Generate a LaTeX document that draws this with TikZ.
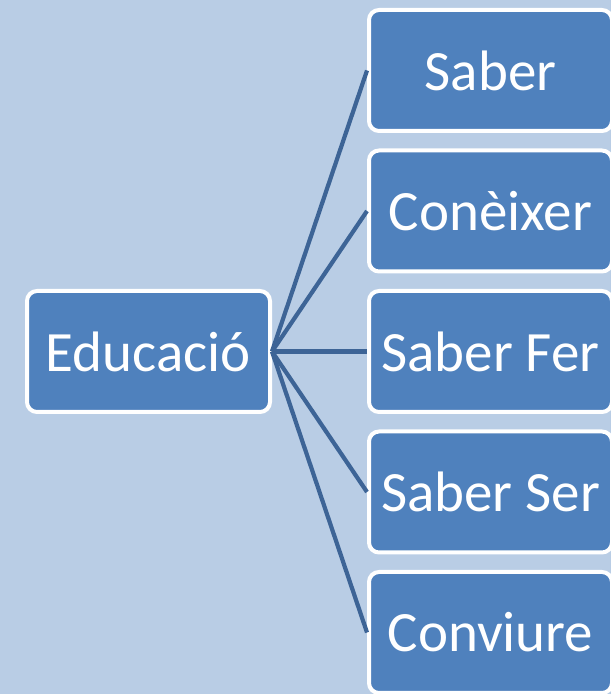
\documentclass[tikz,border=0pt]{standalone}
\usepackage{fontspec}
\setmainfont{Carlito}
\usepackage{xcolor}
\usetikzlibrary{positioning}
\definecolor{bgblue}{HTML}{B9CDE5}
\definecolor{boxblue}{HTML}{4F81BD}
\definecolor{linkblue}{HTML}{3D6496}

\begin{document}
\begin{tikzpicture}[x=1pt,y=1pt,
	box/.style={draw=white,line width=4pt,fill=boxblue,rounded corners=10pt,
		minimum width=243pt,minimum height=121pt,inner sep=0pt,
		text=white,font=\fontsize{57}{62}\selectfont},
	link/.style={draw=linkblue,line width=4.2pt}]
		\fill[bgblue] (0,0) rectangle (611,694);
		\useasboundingbox (0,0) rectangle (611,694);
		%
		\node[box] (E) at (148.5,342.5) {Educació};
		\node[box] (S1) at (490.5,623.5) {Saber};
		\node[box] (S2) at (490.5,483) {Conèixer};
		\node[box] (S3) at (490.5,342.5) {Saber Fer};
		\node[box] (S4) at (490.5,202) {Saber Ser};
		\node[box] (S5) at (490.5,61.5) {Conviure};
		%
		% links to the right column
		\draw[link] (E.east) -- (S1.west);
		\draw[link] (E.east) -- (S2.west);
		\draw[link] (E.east) -- (S3.west);
		\draw[link] (E.east) -- (S4.west);
		\draw[link] (E.east) -- (S5.west);
		\end{tikzpicture}
\end{document}
